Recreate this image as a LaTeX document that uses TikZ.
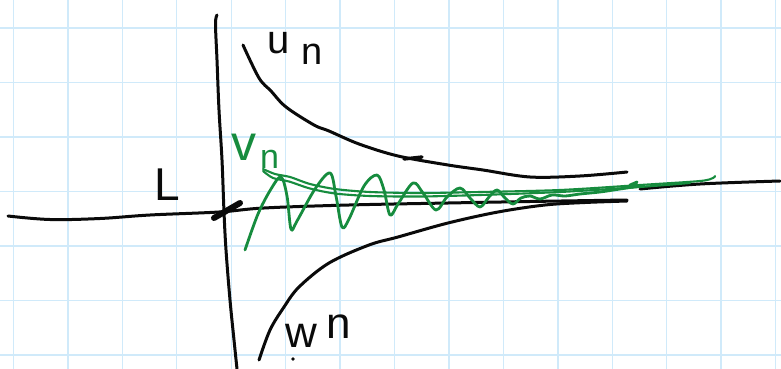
\documentclass[tikz,border=0pt]{standalone}
\usepackage{fontspec}
\setmainfont{Liberation Sans}
\definecolor{gridblue}{RGB}{208,234,250}
\definecolor{penblack}{RGB}{10,10,10}
\definecolor{pengreen}{RGB}{22,140,62}
\tikzset{
  gridline/.style={draw=gridblue, line width=1.4pt},
  ink/.style={draw=penblack, line width=3pt, line cap=round, line join=round},
  greenink/.style={draw=pengreen, line width=2.8pt, line cap=round, line join=round},
  hand/.style={inner sep=0pt, text=penblack},
}
\begin{document}
\begin{tikzpicture}[x=1pt,y=-1pt]
\useasboundingbox (0,0) rectangle (781,369);
\fill[white] (0,0) rectangle (781,369);
% grid
\foreach \i in {0,...,14} \draw[gridline] ({13.5+54.43*\i},0) -- ({13.5+54.43*\i},369);
\foreach \j in {0,...,6} \draw[gridline] (0,{28+54.5*\j}) -- (781,{28+54.5*\j});

% named end points
\coordinate (axTop) at (217,15);
\coordinate (axBot) at (237,369);
\coordinate (hL) at (8,216);
\coordinate (hR) at (627,200);
\coordinate (hR2a) at (640,189);
\coordinate (hR2b) at (780,181);
\coordinate (uS) at (243,45);
\coordinate (uE) at (627,172);
\coordinate (wS) at (259,360);
\coordinate (wE) at (627,201);

% vertical axis
\draw[ink] plot[smooth, tension=0.6] coordinates {(axTop) (215.5,24) (217,60) (219,110) (222,160) (224,212) (226,250) (230,300) (234,340) (axBot)};
% horizontal axis
\draw[ink] plot[smooth, tension=0.6] coordinates {(hL) (50,219.5) (100,218.5) (150,215) (219,212) (264,208) (349,205) (448,203) (530,201.5) (hR)};
\draw[ink] plot[smooth, tension=0.6] coordinates {(hR2a) (700,184) (hR2b)};
% thick mark at the origin
\draw[ink, line width=6pt] (214,218) -- (240,203);

% u_n
\draw[ink] plot[smooth, tension=0.55] coordinates {(uS) (259,78) (271,91) (286,107) (314,125) (329,131) (359,144) (398,156) (448,165) (483,170) (530,177) (580,176) (uE)};
\draw[ink, line width=3.4pt] (404,159) -- (422,157);
% w_n
\draw[ink] plot[smooth, tension=0.55] coordinates {(wS) (270,330) (284,307) (299,287) (329,263) (369,245) (398,237) (448,223) (498,212) (545,205) (585,202.5) (wE)};
\fill[penblack] (293,359) circle (1.8);

% green double line
\draw[greenink, line width=2.1pt] plot[smooth, tension=0.5] coordinates {(263,169) (275,174) (290,177) (310,184) (335,189) (370,192) (420,193) (480,192) (560,190) (640,185) (700,181) (713,178) (715,176)};
\draw[greenink, line width=2.1pt] plot[smooth, tension=0.5] coordinates {(263,171) (273,178) (289,181.5) (310,188.5) (335,193.5) (370,196) (420,196.5) (480,195) (560,192) (640,187) (690,183)};
% green oscillation
\draw[greenink] plot[smooth, tension=0.55] coordinates {(245,250) (258,214) (271,189) (281,177) (287,196) (291,229) (297,221) (315,189) (330,173) (336,196) (342,227) (349,219) (364,186) (377,175) (384,190) (390,215) (398,204) (413,183) (423,193) (436,210) (447,197) (460,188) (470,198) (480,207) (489,197) (497,190) (505,198) (513,204) (521,198) (530,196) (540,199) (552,195) (565,196) (580,194) (600,192) (620,189) (640,186)};
\draw[greenink] (630,185) -- (637,182) -- (633,187);

% labels
\node[hand, anchor=base west, font=\fontsize{38}{38}\selectfont] (un) at (267,54) {{\fontsize{40}{40}\selectfont u}\kern12pt\raisebox{-10pt}{n}};
\node[hand, anchor=base west, font=\fontsize{46}{46}\selectfont] (L) at (154,200) {L};
\node[hand, anchor=base west, font=\fontsize{44}{44}\selectfont] (wn) at (285,347) {w\kern10pt\raisebox{9pt}{n}};
\node[hand, anchor=base west, text=pengreen, font=\fontsize{34}{34}\selectfont] (vn) at (231,160) {{\fontsize{50}{50}\selectfont v}\kern4pt\raisebox{-8pt}{n}};
\end{tikzpicture}
\end{document}
